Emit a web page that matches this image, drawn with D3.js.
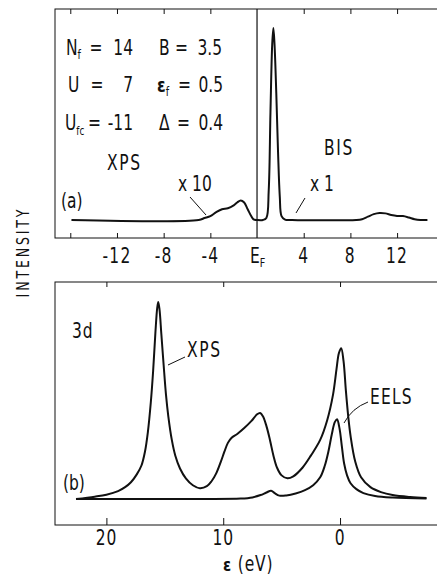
<!DOCTYPE html>
<html><head><meta charset="utf-8">
<script src="https://cdn.jsdelivr.net/npm/d3@7/dist/d3.min.js"></script>
<style>
body{margin:0;background:#fff;}
svg text{font-family:"DejaVu Sans Condensed","DejaVu Sans",sans-serif;fill:#111;}
</style></head>
<body><svg id="c" width="437" height="577"></svg>
<script>
// ---------- DATA ----------
// Panel (a): energy (eV) relative to E_F, XPS (x10) left, BIS (x1) right
const topEnergy = [-15.9,-5.0,-4.5,-4.0,-3.5,-3.0,-2.5,-2.0,-1.7,-1.4,-1.1,-0.8,-0.5,-0.3,0.0,0.5,0.8,1.0,1.15,1.3,1.4,1.5,1.65,1.8,1.95,2.1,2.4,3.0,8.5,9.0,9.5,10.0,10.5,11.0,11.5,12.0,12.5,13.0,13.5,14.0,14.6];
const topIntensity = [0,0,0.01,0.02,0.04,0.055,0.06,0.075,0.09,0.10,0.09,0.055,0.02,0.003,0,0,0.01,0.15,0.55,0.90,0.985,0.90,0.65,0.35,0.12,0.02,0.002,0,0,0.004,0.017,0.03,0.036,0.034,0.026,0.021,0.020,0.013,0.004,0,0];
const topTicks = [-16,-12,-8,-4,4,8,12];
const topTickLabels = ["-12","-8","-4","4","8","12"];
const topLabelValues = [-12,-8,-4,4,8,12];

// Panel (b): 3d core level, eps (eV)
const xpsEnergy = [22.6,21.0,20.0,19.0,18.4,17.9,17.4,17.0,16.7,16.45,16.2,16.0,15.8,15.65,15.56,15.45,15.3,15.1,14.9,14.7,14.4,14.1,13.7,13.2,12.6,12.0,11.4,11.0,10.6,10.2,9.9,9.6,9.3,8.8,8.2,7.6,7.1,6.84,6.6,6.3,6.0,5.7,5.4,5.0,4.5,4.0,3.2,2.5,1.7,1.1,0.6,0.3,0.1,-0.1,-0.3,-0.5,-0.7,-0.9,-1.3,-1.8,-2.6,-3.5,-4.5,-6.0,-7.4];
const xpsIntensity = [0,0.012,0.022,0.04,0.06,0.085,0.125,0.17,0.24,0.34,0.49,0.65,0.85,0.97,1.0,0.96,0.84,0.68,0.53,0.42,0.30,0.22,0.155,0.105,0.07,0.055,0.065,0.09,0.13,0.19,0.24,0.285,0.31,0.33,0.36,0.395,0.43,0.437,0.42,0.37,0.30,0.22,0.16,0.12,0.105,0.115,0.16,0.22,0.30,0.40,0.53,0.66,0.74,0.765,0.70,0.55,0.42,0.32,0.19,0.11,0.06,0.035,0.02,0.01,0.005];
const eelsEnergy = [22.6,12.0,8.5,7.5,6.8,6.3,5.9,5.6,5.2,4.6,3.8,3.0,2.3,1.7,1.3,1.0,0.7,0.45,0.26,0.05,-0.15,-0.35,-0.6,-0.9,-1.4,-2.0,-3.0,-4.5,-7.4];
const eelsIntensity = [0,0,0.002,0.008,0.02,0.033,0.042,0.03,0.017,0.018,0.028,0.045,0.07,0.11,0.17,0.24,0.33,0.39,0.405,0.36,0.27,0.18,0.12,0.08,0.05,0.03,0.015,0.007,0.002];
const botTicks = [20,10,0];
const botTickLabels = ["20","10","0"];

// ---------- CHART ----------
const svg = d3.select("#c");
const ink = "#111";
const SX = 0.82;

function label(x,y,parts,anchor,size){
  const g = svg.append("g").attr("transform",`translate(${x},${y}) scale(${SX},1)`);
  const t = g.append("text").attr("font-size",size||21).attr("text-anchor",anchor||"start");
  if(typeof parts === "string") parts=[[parts,{}]];
  parts.forEach(p=>{const s=t.append("tspan").text(p[0]); Object.entries(p[1]||{}).forEach(([k,v])=>s.attr(k,v));});
  return t;
}
const subA = {"font-size":13,"dy":4};

// Panel (a)
const xA = d3.scaleLinear().domain([-17.31,15.42]).range([55,437]);
const yA = d3.scaleLinear().domain([0,1]).range([220,25]);
const aTop = 9, aBot = 238;

svg.append("rect").attr("x",55).attr("y",aTop).attr("width",400).attr("height",aBot-aTop)
  .attr("fill","none").attr("stroke",ink).attr("stroke-width",1);
svg.append("g").attr("transform",`translate(0,${aBot})`).call(d3.axisBottom(xA).tickValues(topTicks).tickSize(-5).tickFormat(""))
  .call(g=>{g.select(".domain").remove();g.selectAll("line").attr("stroke",ink);});
svg.append("g").attr("transform",`translate(0,${aTop})`).call(d3.axisTop(xA).tickValues(topTicks).tickSize(-5).tickFormat(""))
  .call(g=>{g.select(".domain").remove();g.selectAll("line").attr("stroke",ink);});

svg.append("line").attr("x1",xA(0)).attr("x2",xA(0)).attr("y1",aTop).attr("y2",aBot)
  .attr("stroke",ink).attr("stroke-width",1.2);

topLabelValues.forEach((v,i)=>{
  label(xA(v),263,topTickLabels[i],"middle").attr("letter-spacing",1.5);
});
label(xA(0)-7,263,[["E",{}],["F",subA]]);

const lineA = d3.line().x((d,i)=>xA(topEnergy[i])).y((d,i)=>yA(topIntensity[i])).curve(d3.curveCatmullRom.alpha(0.5));
svg.append("path").attr("d",lineA(topEnergy)).attr("fill","none").attr("stroke",ink).attr("stroke-width",2);

// parameters
label(66,55,[["N",{}],["f",subA]]); label(96,55,"=","middle"); label(133,55,"14","end");
label(159,55,"B"); label(175,55,"="); label(222,55,"3.5","end");
label(68,92,"U"); label(97,92,"=","middle"); label(133,92,"7","end");
label(157,92,[["ε",{"font-family":"DejaVu Sans","font-weight":"bold","font-size":19}],["f",subA]]);
label(178,92,"="); label(223,92,"0.5","end");
label(65,130,[["U",{}],["fc",{"font-size":12,"dy":5}]]); label(88,130,"="); label(133,130,"-11","end");
label(159,130,"Δ"); label(177,130,"="); label(223,130,"0.4","end");

label(107,170,"XPS").attr("letter-spacing",2); label(324,155,"BIS").attr("letter-spacing",2);
label(178,191,"x 10"); label(310,191,"x 1");
label(61,208,"(a)");
svg.append("line").attr("x1",190).attr("y1",197).attr("x2",206).attr("y2",215).attr("stroke",ink).attr("stroke-width",1);
svg.append("line").attr("x1",305).attr("y1",198).attr("x2",296).attr("y2",213).attr("stroke",ink).attr("stroke-width",1);

// INTENSITY
svg.append("g").attr("transform",`translate(29,252) rotate(-90) scale(${SX},1)`)
  .append("text").attr("text-anchor","middle").attr("font-size",17).attr("letter-spacing",3.5).text("INTENSITY");

// Panel (b)
const xB = d3.scaleLinear().domain([24.4,-8.3]).range([55,437]);
const yB = d3.scaleLinear().domain([0,1]).range([499,302]);
const bTop = 282, bBot = 525;
svg.append("rect").attr("x",55).attr("y",bTop).attr("width",400).attr("height",bBot-bTop)
  .attr("fill","none").attr("stroke",ink).attr("stroke-width",1);
svg.append("g").attr("transform",`translate(0,${bBot})`).call(d3.axisBottom(xB).tickValues(botTicks).tickSize(-7).tickFormat(""))
  .call(g=>{g.select(".domain").remove();g.selectAll("line").attr("stroke",ink);});
svg.append("g").attr("transform",`translate(0,${bTop})`).call(d3.axisTop(xB).tickValues(botTicks).tickSize(-5).tickFormat(""))
  .call(g=>{g.select(".domain").remove();g.selectAll("line").attr("stroke",ink);});
botTicks.forEach((v,i)=>{
  label(xB(v),545,botTickLabels[i],"middle").attr("letter-spacing",1);
});
label(223,571,[["ε",{"font-family":"DejaVu Sans","font-weight":"bold","font-size":18}],[" (eV)",{}]]).attr("letter-spacing",1);

const lineX = d3.line().x((d,i)=>xB(xpsEnergy[i])).y((d,i)=>yB(xpsIntensity[i])).curve(d3.curveCatmullRom.alpha(0.5));
svg.append("path").attr("d",lineX(xpsEnergy)).attr("fill","none").attr("stroke",ink).attr("stroke-width",2);
const lineE = d3.line().x((d,i)=>xB(eelsEnergy[i])).y((d,i)=>yB(eelsIntensity[i])).curve(d3.curveCatmullRom.alpha(0.5));
svg.append("path").attr("d",lineE(eelsEnergy)).attr("fill","none").attr("stroke",ink).attr("stroke-width",2);

label(72,338,"3d").attr("letter-spacing",1); label(187,357,"XPS").attr("letter-spacing",2);
label(370,404,"EELS").attr("letter-spacing",1.5); label(63,490,"(b)");
svg.append("line").attr("x1",185).attr("y1",357).attr("x2",168).attr("y2",365).attr("stroke",ink).attr("stroke-width",1);
svg.append("path").attr("d","M368,402 Q352,408 344,423").attr("fill","none").attr("stroke",ink).attr("stroke-width",1);
</script></body></html>
